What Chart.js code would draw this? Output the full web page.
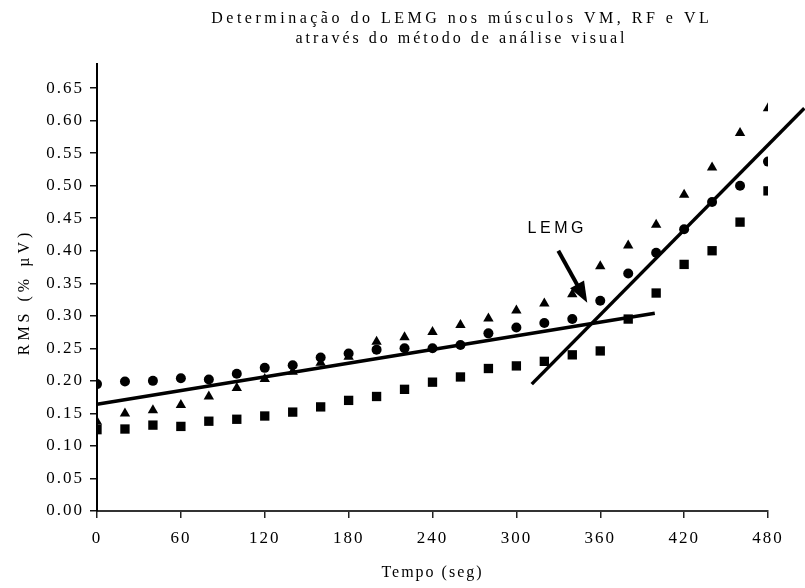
<!DOCTYPE html>
<html>
<head>
<meta charset="utf-8">
<script src="https://cdn.jsdelivr.net/npm/chart.js@4.4.1/dist/chart.umd.min.js"></script>
<style>
html,body{margin:0;padding:0;background:#fff;}
#wrap{width:805px;height:588px;}
</style>
</head>
<body>
<div id="wrap"><canvas id="c" width="805" height="588"></canvas></div>
<script>
// ---------- data ----------
const titleLines = ['Determinação do LEMG nos músculos VM, RF e VL', 'através do método de análise visual'];
const xAxisTitle = 'Tempo (seg)';
const yAxisTitle = 'RMS (% µV)';
const timeSec = [0,20,40,60,80,100,120,140,160,180,200,220,240,260,280,300,320,340,360,380,400,420,440,460,480];
const vmRms = [0.195,0.199,0.200,0.204,0.202,0.211,0.220,0.224,0.236,0.242,0.248,0.250,0.250,0.255,0.273,0.282,0.289,0.295,0.323,0.365,0.397,0.433,0.475,0.500,0.537];
const rfRms = [0.137,0.150,0.155,0.163,0.176,0.189,0.203,0.214,0.228,0.237,0.260,0.267,0.275,0.286,0.296,0.308,0.319,0.333,0.376,0.408,0.440,0.486,0.528,0.581,0.619];
const vlRms = [0.125,0.126,0.132,0.130,0.138,0.141,0.146,0.152,0.160,0.170,0.176,0.187,0.198,0.206,0.219,0.223,0.230,0.240,0.246,0.295,0.335,0.379,0.400,0.444,0.492];
const fitLowX = [0, 399];
const fitLowY = [0.164, 0.304];
const fitHighX = [311, 506];
const fitHighY = [0.195, 0.619];
const xTicks = [0,60,120,180,240,300,360,420,480];
const yTicks = [0,0.05,0.10,0.15,0.20,0.25,0.30,0.35,0.40,0.45,0.50,0.55,0.60,0.65];
const lemgLabel = 'LEMG';
const lemgArrowFrom = [330, 0.400];
const lemgArrowTo = [350.7, 0.320];
const lemgTextAt = [308, 0.4265];

// ---------- helpers ----------
const pts = (xs, ys) => xs.map((x, i) => ({x: x, y: ys[i]}));
const serif = '"Liberation Serif", "Times New Roman", serif';

const annotPlugin = {
  id: 'annot',
  beforeDraw(chart) {
    chart.ctx.letterSpacing = '2px';
  },
  afterDraw(chart) {
    const ctx = chart.ctx;
    const xs = chart.scales.x, ys = chart.scales.y;
    ctx.save();
    ctx.fillStyle = '#000';
    ctx.strokeStyle = '#000';
    // title
    ctx.font = '16px ' + serif;
    ctx.textAlign = 'center';
    ctx.textBaseline = 'alphabetic';
    ctx.letterSpacing = '3.5px';
    ctx.fillText(titleLines[0], 460 + 1.75, 22.7);
    ctx.letterSpacing = '3px';
    ctx.fillText(titleLines[1], 460 + 1.5, 43.3);
    // y axis title (rotated)
    ctx.save();
    ctx.translate(25, 294);
    ctx.rotate(-Math.PI / 2);
    ctx.textBaseline = 'middle';
    ctx.letterSpacing = '4px';
    ctx.fillText(yAxisTitle, 2, 0);
    ctx.restore();
    // LEMG label
    ctx.font = '16px "Liberation Sans", Arial, sans-serif';
    ctx.textAlign = 'left';
    ctx.textBaseline = 'alphabetic';
    ctx.letterSpacing = '3.5px';
    ctx.fillText(lemgLabel, xs.getPixelForValue(lemgTextAt[0]), ys.getPixelForValue(lemgTextAt[1]));
    // arrow
    const x0 = xs.getPixelForValue(lemgArrowFrom[0]), y0 = ys.getPixelForValue(lemgArrowFrom[1]);
    const x1 = xs.getPixelForValue(lemgArrowTo[0]), y1 = ys.getPixelForValue(lemgArrowTo[1]);
    const ang = Math.atan2(y1 - y0, x1 - x0);
    const headLen = 21, headHalf = 8;
    const bx = x1 - headLen * Math.cos(ang), by = y1 - headLen * Math.sin(ang);
    ctx.lineWidth = 4;
    ctx.beginPath();
    ctx.moveTo(x0, y0);
    ctx.lineTo(bx + 2 * Math.cos(ang), by + 2 * Math.sin(ang));
    ctx.stroke();
    ctx.beginPath();
    ctx.moveTo(x1, y1);
    ctx.lineTo(bx - headHalf * Math.sin(ang), by + headHalf * Math.cos(ang));
    ctx.lineTo(bx + headHalf * Math.sin(ang), by - headHalf * Math.cos(ang));
    ctx.closePath();
    ctx.fill();
    ctx.restore();
  }
};

const markerDs = (label, ys, style, r) => ({
  label: label,
  data: pts(timeSec, ys),
  pointStyle: style,
  pointRadius: r,
  pointHoverRadius: r,
  pointBackgroundColor: '#000',
  pointBorderColor: '#000',
  pointBorderWidth: 0,
  showLine: false
});
const fitDs = (label, xs, ys) => ({
  label: label,
  data: pts(xs, ys),
  showLine: true,
  borderColor: '#000',
  borderWidth: 3.5,
  pointRadius: 0,
  clip: false,
  tension: 0
});

new Chart(document.getElementById('c'), {
  type: 'scatter',
  data: {
    datasets: [
      markerDs('VM', vmRms, 'circle', 5),
      markerDs('RF', rfRms, 'triangle', 6),
      markerDs('VL', vlRms, 'rect', 6.6),
      fitDs('Ajuste 1', fitLowX, fitLowY),
      fitDs('Ajuste 2', fitHighX, fitHighY)
    ]
  },
  options: {
    responsive: false,
    devicePixelRatio: 1,
    animation: false,
    layout: {padding: {top: 64, right: 37, left: 0, bottom: 0}},
    plugins: {
      legend: {display: false},
      tooltip: {enabled: false},
      title: {display: false}
    },
    scales: {
      x: {
        type: 'linear',
        min: 0, max: 480,
        afterBuildTicks: s => { s.ticks = xTicks.map(v => ({value: v})); },
        afterFit: s => { s.height = 77; },
        ticks: {
          color: '#000',
          font: {family: serif, size: 17},
          padding: 10,
          maxRotation: 0,
          autoSkip: false
        },
        grid: {display: true, drawOnChartArea: false, drawTicks: true, tickLength: 7, color: '#222', lineWidth: 1.5},
        border: {display: true, color: '#333', width: 2},
        title: {display: true, text: xAxisTitle, color: '#000', font: {family: serif, size: 16}, padding: {top: 4, bottom: 6}}
      },
      y: {
        type: 'linear',
        min: 0, max: 0.687,
        afterBuildTicks: s => { s.ticks = yTicks.map(v => ({value: v})); },
        afterFit: s => { s.width = 97; },
        ticks: {
          color: '#000',
          font: {family: serif, size: 17},
          padding: 6,
          autoSkip: false,
          callback: v => Number(v).toFixed(2)
        },
        grid: {display: true, drawOnChartArea: false, drawTicks: true, tickLength: 7, color: '#111', lineWidth: 1.5},
        border: {display: true, color: '#000', width: 2},
        title: {display: false}
      }
    }
  },
  plugins: [annotPlugin]
});
</script>
</body>
</html>
